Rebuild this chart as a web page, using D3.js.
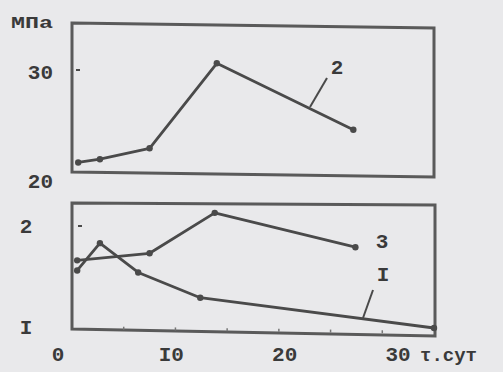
<!DOCTYPE html>
<html><head><meta charset="utf-8">
<script src="https://cdn.jsdelivr.net/npm/d3@7"></script>
<style>
html,body{margin:0;padding:0;background:#e9e9eb;}
svg{display:block;}
text{font-family:"Liberation Mono","DejaVu Sans Mono",monospace;font-weight:bold;fill:#3a3a3a;}
</style></head>
<body>
<svg id="c" width="503" height="372"></svg>
<script>
// ---- data ----
const days2 = [0.6, 2.7, 7.5, 14.0, 27.2];
const mpa2  = [21.7, 22.0, 23.0, 30.8, 24.7];
const days1 = [0.5, 2.7, 6.4, 12.4, 35];
const mpa1  = [1.56, 1.83, 1.54, 1.29, 0.99];
const days3 = [0.5, 7.5, 13.8, 27.4];
const mpa3  = [1.66, 1.73, 2.13, 1.79];
const xTickLabels = [0, 10, 20, 30];
const xTickLabelText = ["0", "I0", "20", "30"];
const xMinorTicks = [5, 10, 15, 20, 25, 30];
const topTicks = [20, 30];
const topTickText = ["20", "30"];
const botTicks = [1, 2];
const botTickText = ["I", "2"];

const svg = d3.select("#c");
const ink = "#4a4a4a";

const x = d3.scaleLinear().domain([0, 35]).range([72, 434]);
const xLab = d3.scaleLinear().domain([0, 30]).range([58, 398]);
const yTop = d3.scaleLinear().domain([20, 30]).range([181, 72]);
const yBot = d3.scaleLinear().domain([1, 2]).range([327, 226]);

// panel frames (slightly skewed like the scan)
svg.append("path")
  .attr("d", "M72,23 L434,28 L434,177 L72,172 Z")
  .attr("fill", "none").attr("stroke", "#5a5a5a").attr("stroke-width", 3);
svg.append("path")
  .attr("d", "M72,203 L435,205 L435,336 L72,329 Z")
  .attr("fill", "none").attr("stroke", "#5a5a5a").attr("stroke-width", 3);

// y labels
svg.selectAll(".tl").data(topTicks).enter().append("text")
  .attr("x", 53).attr("y", d => yTop(d)).attr("dy", "0.35em")
  .attr("text-anchor", "end").attr("font-size", 21)
  .text((d, i) => topTickText[i]);
svg.selectAll(".bl").data(botTicks).enter().append("text")
  .attr("x", 26).attr("y", d => yBot(d)).attr("dy", "0.35em")
  .attr("text-anchor", "middle").attr("font-size", 21)
  .text((d, i) => botTickText[i]);
// tiny dashes near tick values
svg.append("line").attr("x1", 76).attr("x2", 80).attr("y1", yTop(30) - 2).attr("y2", yTop(30) - 2)
  .attr("stroke", ink).attr("stroke-width", 2);
svg.append("line").attr("x1", 78).attr("x2", 82).attr("y1", yBot(2)).attr("y2", yBot(2))
  .attr("stroke", ink).attr("stroke-width", 2);

svg.append("text").attr("x", 11).attr("y", 28).attr("font-size", 17)
  .attr("textLength", 42).attr("lengthAdjust", "spacingAndGlyphs").text("МПа");

// x labels
svg.selectAll(".xl").data(xTickLabels).enter().append("text")
  .attr("x", d => xLab(d)).attr("y", 361)
  .attr("text-anchor", "middle").attr("font-size", 21)
  .text((d, i) => xTickLabelText[i]);
svg.append("text").attr("x", 420).attr("y", 361).attr("font-size", 19).text("τ.сут");

// minor ticks at bottom
svg.selectAll(".mt").data(xMinorTicks).enter().append("line")
  .attr("x1", d => x(d)).attr("x2", d => x(d))
  .attr("y1", d => 329 + (x(d) - 72) / 363 * 5 - 3)
  .attr("y2", d => 329 + (x(d) - 72) / 363 * 5)
  .attr("stroke", "#777").attr("stroke-width", 1.5);

function series(days, vals, yS) {
  const pts = days.map((d, i) => [x(d), yS(vals[i])]);
  svg.append("path").attr("d", d3.line()(pts))
    .attr("fill", "none").attr("stroke", ink).attr("stroke-width", 2.8)
    .attr("stroke-linejoin", "round");
  svg.selectAll(null).data(pts).enter().append("circle")
    .attr("cx", p => p[0]).attr("cy", p => p[1]).attr("r", 3.2)
    .attr("fill", ink);
}
series(days2, mpa2, yTop);
series(days1, mpa1, yBot);
series(days3, mpa3, yBot);

// callouts
svg.append("line").attr("x1", 327).attr("y1", 78).attr("x2", 310).attr("y2", 107)
  .attr("stroke", ink).attr("stroke-width", 2);
svg.append("text").attr("x", 337).attr("y", 67).attr("dy", "0.35em")
  .attr("text-anchor", "middle").attr("font-size", 21).text("2");
svg.append("text").attr("x", 382).attr("y", 241).attr("dy", "0.35em")
  .attr("text-anchor", "middle").attr("font-size", 21).text("3");
svg.append("text").attr("x", 383).attr("y", 274).attr("dy", "0.35em")
  .attr("text-anchor", "middle").attr("font-size", 21).text("I");
svg.append("line").attr("x1", 373).attr("y1", 290).attr("x2", 363).attr("y2", 318)
  .attr("stroke", ink).attr("stroke-width", 2);
</script>
</body></html>
